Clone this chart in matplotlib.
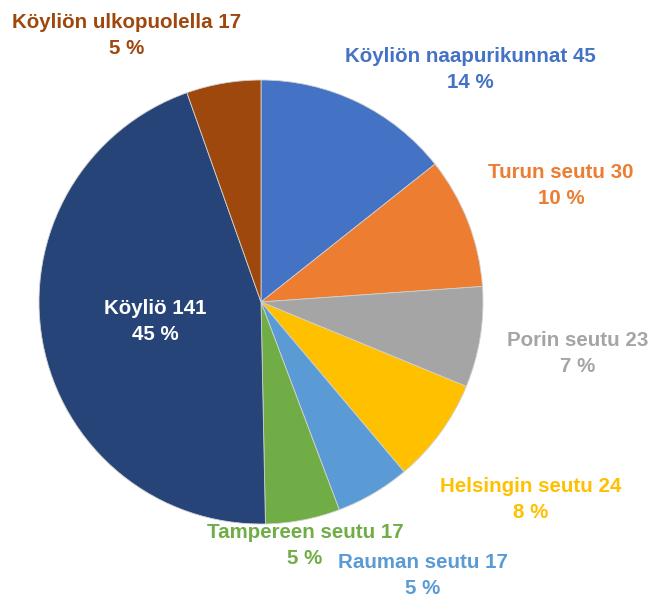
import matplotlib.pyplot as plt

labels = ["Köyliön naapurikunnat", "Turun seutu", "Porin seutu", "Helsingin seutu",
          "Rauman seutu", "Tampereen seutu", "Köyliö", "Köyliön ulkopuolella"]
counts = [45, 30, 23, 24, 17, 17, 141, 17]
percents = ["14 %", "10 %", "7 %", "8 %", "5 %", "5 %", "45 %", "5 %"]
colors = ["#4472C4", "#ED7D31", "#A5A5A5", "#FFC000",
          "#5B9BD5", "#70AD47", "#264478", "#9E480E"]
text_colors = ["#4472C4", "#ED7D31", "#A5A5A5", "#FFC000",
               "#5B9BD5", "#70AD47", "white", "#9E480E"]

W, H = 654, 597
fig = plt.figure(figsize=(W / 100, H / 100), dpi=100)
ax = fig.add_axes([0, 0, 1, 1])

cx, cy, r = 261, H - 302, 222
ax.pie(counts, colors=colors, startangle=90, counterclock=False,
       center=(cx, cy), radius=r, frame=True,
       wedgeprops=dict(linewidth=0.6, edgecolor="#d0d0d0"))
ax.set_xlim(0, W)
ax.set_ylim(0, H)
ax.set_aspect("equal")
ax.axis("off")

# label centres in pixel coordinates (x, y from top)
label_pos = [(470, 70), (561, 185), (578, 353), (531, 500),
             (423, 576), (305, 546), (155, 321), (127, 35)]
gap = 13  # half the distance between the two label lines

style = dict(ha="center", va="center", fontsize=14.8, fontweight="bold",
             family="Liberation Sans")
for name, n, p, c, (x, y) in zip(labels, counts, percents, text_colors, label_pos):
    ax.text(x, H - y + gap, f"{name} {n}", color=c, **style)
    ax.text(x, H - y - gap, p, color=c, **style)

fig.savefig("out.png", dpi=100)
